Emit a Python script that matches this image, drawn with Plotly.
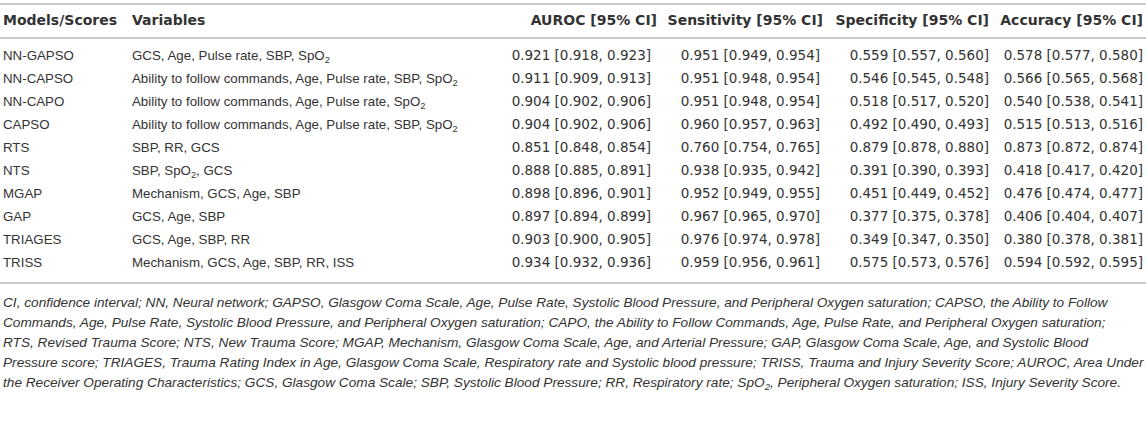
import plotly.graph_objects as go

# table content
headers = ["Models/Scores", "Variables", "AUROC [95% CI]", "Sensitivity [95% CI]",
           "Specificity [95% CI]", "Accuracy [95% CI]"]

models = ["NN-GAPSO", "NN-CAPSO", "NN-CAPO", "CAPSO", "RTS", "NTS",
          "MGAP", "GAP", "TRIAGES", "TRISS"]

variables = [
    "GCS, Age, Pulse rate, SBP, SpO<sub>2</sub>",
    "Ability to follow commands, Age, Pulse rate, SBP, SpO<sub>2</sub>",
    "Ability to follow commands, Age, Pulse rate, SpO<sub>2</sub>",
    "Ability to follow commands, Age, Pulse rate, SBP, SpO<sub>2</sub>",
    "SBP, RR, GCS",
    "SBP, SpO<sub>2</sub>, GCS",
    "Mechanism, GCS, Age, SBP",
    "GCS, Age, SBP",
    "GCS, Age, SBP, RR",
    "Mechanism, GCS, Age, SBP, RR, ISS",
]

auroc = [(0.921, 0.918, 0.923), (0.911, 0.909, 0.913), (0.904, 0.902, 0.906),
         (0.904, 0.902, 0.906), (0.851, 0.848, 0.854), (0.888, 0.885, 0.891),
         (0.898, 0.896, 0.901), (0.897, 0.894, 0.899), (0.903, 0.900, 0.905),
         (0.934, 0.932, 0.936)]
sensitivity = [(0.951, 0.949, 0.954), (0.951, 0.948, 0.954), (0.951, 0.948, 0.954),
               (0.960, 0.957, 0.963), (0.760, 0.754, 0.765), (0.938, 0.935, 0.942),
               (0.952, 0.949, 0.955), (0.967, 0.965, 0.970), (0.976, 0.974, 0.978),
               (0.959, 0.956, 0.961)]
specificity = [(0.559, 0.557, 0.560), (0.546, 0.545, 0.548), (0.518, 0.517, 0.520),
               (0.492, 0.490, 0.493), (0.879, 0.878, 0.880), (0.391, 0.390, 0.393),
               (0.451, 0.449, 0.452), (0.377, 0.375, 0.378), (0.349, 0.347, 0.350),
               (0.575, 0.573, 0.576)]
accuracy = [(0.578, 0.577, 0.580), (0.566, 0.565, 0.568), (0.540, 0.538, 0.541),
            (0.515, 0.513, 0.516), (0.873, 0.872, 0.874), (0.418, 0.417, 0.420),
            (0.476, 0.474, 0.477), (0.406, 0.404, 0.407), (0.380, 0.378, 0.381),
            (0.594, 0.592, 0.595)]

footnote = [
    "CI, confidence interval; NN, Neural network; GAPSO, Glasgow Coma Scale, Age, Pulse Rate, Systolic Blood Pressure, and Peripheral Oxygen saturation; CAPSO, the Ability to Follow",
    "Commands, Age, Pulse Rate, Systolic Blood Pressure, and Peripheral Oxygen saturation; CAPO, the Ability to Follow Commands, Age, Pulse Rate, and Peripheral Oxygen saturation;",
    "RTS, Revised Trauma Score; NTS, New Trauma Score; MGAP, Mechanism, Glasgow Coma Scale, Age, and Arterial Pressure; GAP, Glasgow Coma Scale, Age, and Systolic Blood",
    "Pressure score; TRIAGES, Trauma Rating Index in Age, Glasgow Coma Scale, Respiratory rate and Systolic blood pressure; TRISS, Trauma and Injury Severity Score; AUROC, Area Under",
    "the Receiver Operating Characteristics; GCS, Glasgow Coma Scale; SBP, Systolic Blood Pressure; RR, Respiratory rate; SpO<sub>2</sub>, Peripheral Oxygen saturation; ISS, Injury Severity Score.",
]

W, H = 1146, 436
TEXT = "#333333"
RULE = "#c9c9c9"
FONT = "Liberation Sans, Arial, sans-serif"
NUMFONT = "DejaVu Sans, sans-serif"

header_y = 21
row_y0, row_dy = 57, 23.0
rows_y = [row_y0 + i * row_dy for i in range(len(models))]
foot_y = [304 + i * 20 for i in range(len(footnote))]

col_left = [3, 132]
head_right = [657, 823, 989, 1143]
val_right = [651, 820, 989, 1143]


def fmt(v):
    return "%.3f [%.3f, %.3f]" % v


fig = go.Figure()

# header row
head_font = dict(family=NUMFONT, size=14, color=TEXT, weight="bold")
fig.add_trace(go.Scatter(
    x=col_left, y=[header_y] * 2, text=headers[:2], mode="text",
    textposition="middle right", textfont=head_font,
    hoverinfo="skip", showlegend=False))
fig.add_trace(go.Scatter(
    x=head_right, y=[header_y] * 4, text=headers[2:], mode="text",
    textposition="middle left", textfont=head_font,
    hoverinfo="skip", showlegend=False))

# body columns
body_font = dict(family=FONT, size=13.3, color=TEXT)
fig.add_trace(go.Scatter(
    x=[col_left[0]] * len(models), y=rows_y, text=models, mode="text",
    textposition="middle right", textfont=body_font,
    hoverinfo="skip", showlegend=False))
fig.add_trace(go.Scatter(
    x=[col_left[1]] * len(models), y=rows_y, text=variables, mode="text",
    textposition="middle right", textfont=body_font,
    hoverinfo="skip", showlegend=False))
num_font = dict(family=NUMFONT, size=13.5, color=TEXT)
for rx, vals in zip(val_right, [auroc, sensitivity, specificity, accuracy]):
    fig.add_trace(go.Scatter(
        x=[rx] * len(vals), y=rows_y, text=[fmt(v) for v in vals], mode="text",
        textposition="middle left", textfont=num_font,
        hoverinfo="skip", showlegend=False))

# footnote
fig.add_trace(go.Scatter(
    x=[3] * len(footnote), y=foot_y, text=["<i>%s</i>" % t for t in footnote],
    mode="text", textposition="middle right",
    textfont=dict(family=FONT, size=13.65, color=TEXT),
    hoverinfo="skip", showlegend=False))

# horizontal rules
for ry in [4, 38, 283]:
    fig.add_shape(type="line", x0=0, x1=W, y0=ry, y1=ry,
                  line=dict(color=RULE, width=2))

fig.update_layout(
    width=W, height=H,
    margin=dict(l=0, r=0, t=0, b=0),
    paper_bgcolor="white", plot_bgcolor="white",
    xaxis=dict(range=[0, W], visible=False, fixedrange=True),
    yaxis=dict(range=[H, 0], visible=False, fixedrange=True),
)

fig.write_html("out.html", config={"displayModeBar": False},
               post_script="document.body.style.margin='0';")
